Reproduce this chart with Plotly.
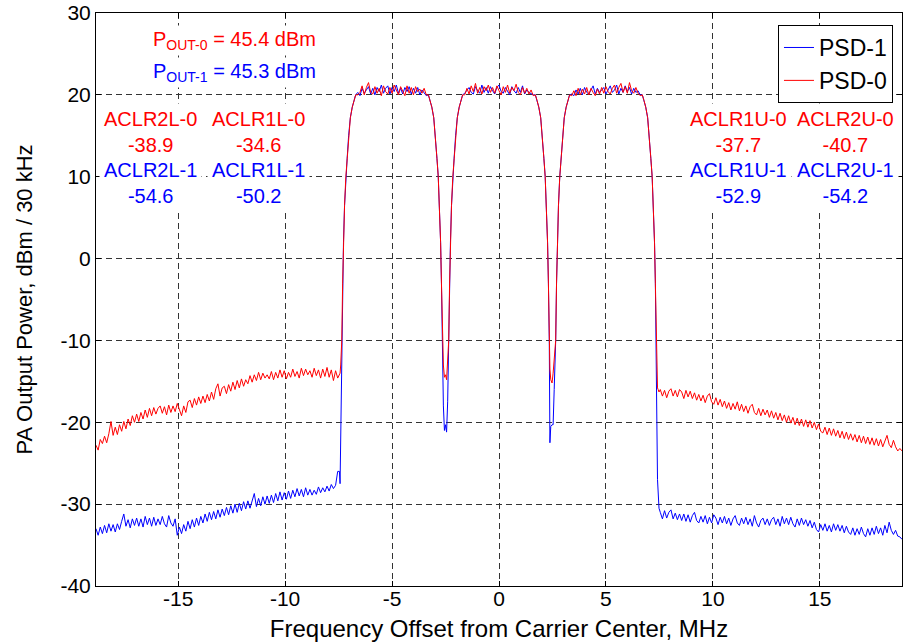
import numpy as np
import plotly.graph_objects as go

# ---------------- data ----------------
band_centers = [-5.0, 0.0, 5.0]

# shared skirt shape of each carrier (|offset| from carrier centre, MHz -> dBm/30kHz)
edge_offsets = [1.70, 1.78, 1.86, 1.95, 2.03, 2.10, 2.16, 2.22, 2.27, 2.31, 2.35]
edge_levels = [20.0, 19.3, 18.5, 17.2, 15.0, 12.2, 10.0, 6.5, 2.0, -3.0, -10.0]

# in-band flat top, offsets -1.6 .. 1.6 MHz in 0.1 MHz steps
top_offsets = np.round(np.arange(-1.6, 1.61, 0.1), 2)

red_top_1 = [20.0, 20.3, 21.1, 20.0, 20.9, 21.5, 20.3, 20.1, 21.0, 20.2, 20.8, 19.9, 21.1, 20.4, 20.1, 20.9, 20.2,
             21.2, 20.6, 20.0, 21.0, 20.4, 19.9, 21.1, 20.2, 20.9, 20.0, 21.0, 20.4, 20.7, 20.2, 20.8, 20.0]
red_top_2 = [20.0, 20.8, 20.1, 21.1, 20.4, 21.4, 20.2, 20.9, 20.1, 21.0, 20.5, 21.2, 20.3, 20.9, 20.2, 21.1, 20.5,
             20.0, 21.0, 20.3, 21.2, 20.2, 20.9, 20.5, 21.3, 20.3, 20.0, 20.9, 20.2, 20.8, 20.1, 20.6, 19.9]
red_top_3 = [19.9, 20.5, 19.9, 20.8, 20.0, 20.7, 20.1, 20.9, 20.0, 20.8, 20.3, 19.9, 20.7, 20.1, 20.9, 20.2, 21.0,
             20.4, 20.1, 20.8, 21.2, 20.2, 20.9, 21.4, 20.3, 21.0, 20.2, 21.5, 20.5, 20.2, 20.9, 20.2, 19.9]
blue_top_1 = [20.3, 19.9, 20.8, 20.2, 20.6, 21.0, 20.1, 20.8, 20.0, 20.9, 20.4, 21.2, 20.2, 20.8, 21.1, 20.1, 20.9,
              20.4, 21.2, 20.2, 20.8, 20.1, 20.9, 20.4, 21.0, 20.1, 20.8, 20.2, 20.9, 20.0, 20.6, 20.2, 19.9]
blue_top_2 = [20.2, 20.5, 20.9, 20.3, 20.1, 21.0, 20.5, 20.2, 21.2, 20.3, 20.9, 20.2, 21.0, 20.5, 20.1, 20.9, 21.2,
              20.4, 20.2, 20.9, 20.4, 20.0, 21.0, 20.5, 20.2, 20.9, 20.3, 21.1, 20.1, 20.6, 20.3, 20.1, 20.0]
blue_top_3 = [20.1, 19.9, 20.6, 20.1, 20.8, 20.0, 20.9, 20.3, 20.1, 20.6, 21.1, 20.1, 20.8, 20.3, 20.6, 20.9, 20.1,
              20.7, 21.1, 20.3, 20.6, 21.2, 20.1, 20.8, 20.3, 21.1, 20.4, 20.9, 20.1, 20.8, 20.3, 20.5, 20.0]

# gaps between carriers
dip1_freq = [-2.60, -2.55, -2.50, -2.45, -2.40]
red_dip1 = [-13.0, -14.5, -14.2, -14.8, -12.5]
blue_dip1 = [-18.0, -21.0, -20.3, -21.2, -17.5]
dip2_freq = [2.38, 2.42, 2.48, 2.53, 2.58]
red_dip2 = [-13.5, -14.8, -15.2, -14.0, -12.5]
blue_dip2 = [-22.5, -20.5, -20.3, -20.3, -16.0]

# outer transitions
left_out_freq = [-7.46, -7.43, -7.40, -7.37]
red_left_out = [-14.2, -14.0, -13.0, -11.5]
blue_left_out = [-26.0, -27.5, -21.0, -15.0]
right_out_freq = [7.38, 7.41, 7.44, 7.48]
red_right_out = [-14.8, -15.8, -16.0, -16.3]
blue_right_out = [-20.0, -27.0, -29.5, -30.5]

# adjacent-channel floors, 0.1 MHz steps
red_left = [-22.8, -23.4, -22.1, -22.6, -21.7, -22.5, -21.4, -19.9, -21.6, -20.6,
            -21.5, -20.3, -21.1, -19.9, -20.8, -19.6, -20.4, -19.2, -20.0, -19.0,
            -19.9, -18.8, -19.6, -18.5, -19.4, -18.3, -19.2, -18.2, -19.0, -18.3,
            -18.0, -18.9, -18.1, -19.1, -17.9, -18.8, -18.0, -18.7, -17.7, -18.6,
            -19.2, -18.0, -18.8, -17.5, -17.3, -18.2, -17.1, -17.9, -16.9, -17.7,
            -16.8, -17.6, -16.6, -17.4, -16.3, -17.2, -15.9, -15.3, -16.8, -15.8,
            -15.6, -16.5, -15.4, -16.2, -15.1, -16.0, -14.9, -15.8, -14.7, -15.6,
            -14.8, -15.3, -14.3, -15.1, -14.2, -14.9, -13.9, -14.8, -14.0, -14.6,
            -14.2, -14.7, -13.8, -14.8, -13.9, -14.6, -13.6, -14.5, -13.7, -14.7,
            -13.9, -14.5, -13.5, -14.4, -13.8, -14.6, -13.4, -14.3, -13.5, -14.2,
            -13.7, -14.5, -13.4, -14.3, -13.6, -14.6, -13.5, -14.4, -13.3, -14.5,
            -13.6, -14.9, -13.7, -14.6]
blue_left = [-33.0, -33.8, -32.8, -33.6, -32.6, -33.5, -32.4, -33.3, -32.5, -33.4,
             -32.4, -33.1, -32.1, -31.2, -32.7, -31.9, -32.9, -31.8, -32.6, -31.7,
             -32.7, -31.8, -32.8, -31.5, -32.5, -31.7, -32.7, -31.6, -32.6, -31.8,
             -32.5, -31.5, -32.4, -32.8, -31.4, -32.3, -32.7, -31.8, -33.8, -32.8,
             -33.6, -32.5, -33.3, -32.1, -33.0, -31.9, -32.8, -31.7, -32.6, -31.5,
             -32.3, -31.2, -32.1, -31.0, -31.9, -30.9, -31.8, -30.7, -31.6, -30.6,
             -31.4, -30.4, -31.3, -30.2, -31.1, -30.0, -31.0, -29.9, -30.8, -29.7,
             -30.6, -29.6, -30.5, -29.5, -28.7, -30.3, -29.3, -30.2, -29.1, -30.0,
             -29.0, -29.9, -28.9, -29.8, -28.7, -29.6, -28.5, -29.5, -28.6, -29.4,
             -28.4, -29.3, -28.3, -29.1, -28.1, -29.0, -28.2, -29.1, -28.0, -28.9,
             -28.2, -28.9, -28.3, -28.8, -27.9, -28.6, -28.0, -28.5, -27.8, -28.4,
             -27.6, -28.1, -27.7, -26.0]
red_right = [-16.0, -16.8, -16.1, -17.0, -16.2, -15.9, -16.8, -16.1, -16.9, -16.0,
             -16.3, -17.1, -16.1, -16.9, -16.2, -17.1, -16.4, -17.3, -16.6, -17.4,
             -16.7, -17.6, -16.8, -16.5, -17.5, -17.8, -17.0, -17.9, -17.2, -18.1,
             -17.4, -18.3, -17.6, -18.5, -17.7, -18.4, -17.5, -18.6, -17.8, -18.7,
             -18.0, -18.9, -18.1, -17.8, -18.8, -19.1, -18.3, -19.2, -18.4, -19.1,
             -18.5, -19.4, -18.6, -19.5, -18.8, -19.7, -18.9, -19.8, -19.1, -20.0,
             -19.2, -20.1, -19.4, -20.3, -19.5, -20.4, -19.6, -20.5, -19.7, -20.6,
             -19.8, -20.7, -20.0, -20.9, -20.2, -21.1, -21.3, -20.6, -21.5, -20.7,
             -21.6, -20.8, -21.7, -21.0, -21.9, -21.1, -22.0, -21.2, -22.1, -21.4,
             -22.2, -21.5, -22.4, -21.6, -22.5, -21.7, -22.6, -21.8, -22.7, -21.9,
             -22.8, -22.0, -22.9, -22.1, -23.0, -22.2, -21.6, -22.7, -23.1, -22.2,
             -23.0, -23.5, -23.2, -23.5]
blue_right = [-31.0, -31.8, -30.8, -31.7, -31.0, -30.7, -31.8, -31.1, -31.9, -31.2,
              -32.0, -31.2, -32.1, -31.3, -32.2, -31.4, -31.0, -32.0, -32.3, -31.5,
              -32.2, -31.4, -32.4, -31.6, -32.3, -31.3, -31.7, -32.5, -31.6, -32.3,
              -31.5, -32.4, -31.7, -32.6, -31.8, -31.4, -32.3, -32.6, -31.7, -32.4,
              -31.6, -32.5, -31.8, -32.7, -31.4, -32.3, -32.8, -32.0, -31.7, -32.5,
              -31.8, -32.6, -31.9, -31.6, -32.5, -31.8, -32.7, -31.5, -32.4, -31.7,
              -32.5, -31.6, -32.4, -32.8, -31.8, -32.6, -31.7, -32.5, -31.9, -32.7,
              -32.0, -32.9, -32.2, -33.1, -33.4, -32.5, -33.2, -32.4, -33.3, -32.6,
              -33.4, -32.4, -33.2, -32.5, -33.3, -32.6, -33.5, -32.7, -33.4, -33.7,
              -32.9, -33.8, -33.0, -33.7, -32.8, -33.6, -34.0, -33.0, -33.8, -32.9,
              -33.7, -32.7, -33.6, -32.9, -33.8, -32.6, -33.5, -32.2, -33.2, -33.7,
              -33.2, -33.9, -34.0, -34.3]

left_freq = np.linspace(-18.84, -7.54, len(red_left))
right_freq = np.linspace(7.54, 18.84, len(red_right))

x_ticks = [-15, -10, -5, 0, 5, 10, 15]
x_tick_text = ["-15", "-10", "-5", "0", "5", "10", "15"]
y_ticks = [-40, -30, -20, -10, 0, 10, 20, 30]
y_tick_text = ["-40", "-30", "-20", "-10", "0", "10", "20", "30"]

pout_labels = ["P<sub>OUT-0</sub> = 45.4 dBm", "P<sub>OUT-1</sub> = 45.3 dBm"]
aclr_names_0 = ["ACLR2L-0", "ACLR1L-0", "ACLR1U-0", "ACLR2U-0"]
aclr_vals_0 = ["-38.9", "-34.6", "-37.7", "-40.7"]
aclr_names_1 = ["ACLR2L-1", "ACLR1L-1", "ACLR1U-1", "ACLR2U-1"]
aclr_vals_1 = ["-54.6", "-50.2", "-52.9", "-54.2"]
aclr_x = [-16.31, -11.26, 11.21, 16.21]

RED = "#ff0000"
BLUE = "#0000ff"


def build(tops, dips, out_l, out_r, skirt_l, skirt_r):
    xs = list(left_freq) + list(left_out_freq)
    ys = list(skirt_l) + list(out_l)
    dip_f = [dip1_freq, dip2_freq]
    for k, c in enumerate(band_centers):
        xs += [c - o for o in reversed(edge_offsets)]
        ys += list(reversed(edge_levels))
        xs += [c + o for o in top_offsets]
        ys += list(tops[k])
        xs += [c + o for o in edge_offsets]
        ys += list(edge_levels)
        if k < 2:
            xs += dip_f[k]
            ys += dips[k]
    xs += list(right_out_freq) + list(right_freq)
    ys += list(out_r) + list(skirt_r)
    return xs, ys


bx, by = build([blue_top_1, blue_top_2, blue_top_3], [blue_dip1, blue_dip2],
               blue_left_out, blue_right_out, blue_left, blue_right)
rx, ry = build([red_top_1, red_top_2, red_top_3], [red_dip1, red_dip2],
               red_left_out, red_right_out, red_left, red_right)

FONT = "Liberation Sans, Arial, sans-serif"

fig = go.Figure()
fig.add_trace(go.Scatter(x=bx, y=by, mode="lines", name="PSD-1",
                         line=dict(color=BLUE, width=1)))
fig.add_trace(go.Scatter(x=rx, y=ry, mode="lines", name="PSD-0",
                         line=dict(color=RED, width=1)))

annotations = []
for txt, col, yv in [(pout_labels[0], RED, 26.70), (pout_labels[1], BLUE, 22.79)]:
    annotations.append(dict(x=-16.3, y=yv, xref="x", yref="y", text=txt, showarrow=False,
                            xanchor="left", yanchor="middle", bgcolor="white", borderpad=2,
                            font=dict(color=col, size=20, family=FONT)))
for i in range(4):
    annotations.append(dict(x=aclr_x[i], y=15.52, xref="x", yref="y",
                            text=aclr_names_0[i] + "<br>" + aclr_vals_0[i], showarrow=False,
                            xanchor="center", yanchor="middle", bgcolor="white", borderpad=4,
                            font=dict(color=RED, size=20, family=FONT)))
    annotations.append(dict(x=aclr_x[i], y=9.29, xref="x", yref="y",
                            text=aclr_names_1[i] + "<br>" + aclr_vals_1[i], showarrow=False,
                            xanchor="center", yanchor="middle", bgcolor="white", borderpad=4,
                            font=dict(color=BLUE, size=20, family=FONT)))

axis_common = dict(showline=True, linecolor="black", linewidth=1, mirror="allticks",
                   ticks="inside", ticklen=5, tickcolor="black", zeroline=False,
                   showgrid=True, gridcolor="#333333", gridwidth=1, griddash="6px,4px",
                   automargin=False,
                   tickfont=dict(size=21, color="black", family=FONT))

fig.update_layout(
    width=913, height=644,
    margin=dict(l=96, r=11, t=13, b=58),
    paper_bgcolor="white", plot_bgcolor="white",
    font=dict(family=FONT, color="black"),
    annotations=annotations,
    legend=dict(x=0.9888, y=0.979, xanchor="right", yanchor="top",
                bgcolor="white", bordercolor="black", borderwidth=1,
                font=dict(size=23, color="black", family=FONT),
                tracegroupgap=0),
    xaxis=dict(range=[-18.84, 18.84], tickvals=x_ticks, ticktext=x_tick_text,
               ticklabelstandoff=-6,
               title=dict(text="Frequency Offset from Carrier Center, MHz",
                          font=dict(size=24, color="black", family=FONT), standoff=10),
               **axis_common),
    yaxis=dict(range=[-40, 30], tickvals=y_ticks, ticktext=y_tick_text,
               title=dict(text="PA Output Power, dBm / 30 kHz",
                          font=dict(size=22, color="black", family=FONT), standoff=21),
               **axis_common),
)

fig.write_html("out.html")
